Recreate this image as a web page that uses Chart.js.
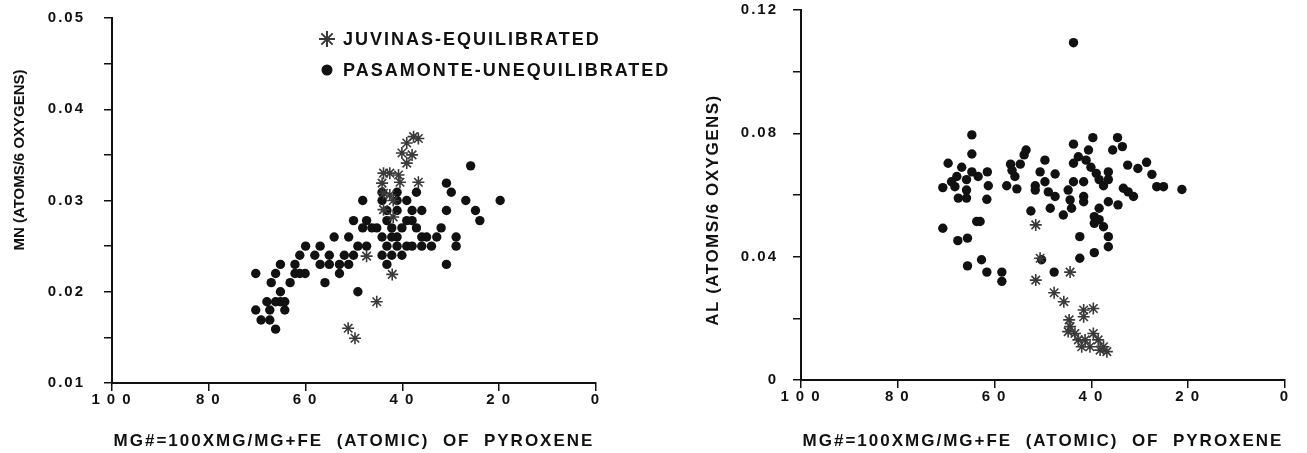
<!DOCTYPE html>
<html>
<head>
<meta charset="utf-8">
<script src="https://cdn.jsdelivr.net/npm/chart.js@4/dist/chart.umd.min.js"></script>
<style>
  body { margin: 0; background: #fff; }
  canvas { position: absolute; top: 0; }
</style>
</head>
<body>
<canvas id="mnGraph" width="700" height="453" style="left:0"></canvas>
<canvas id="alGraph" width="607" height="453" style="left:700px"></canvas>
<script>
// MN plot (left)
var juvMnX = [37.7, 36.7, 39.1, 40.1, 38.0, 39.1, 43.9, 42.6, 40.8, 44.2, 36.7, 43.9, 42.6, 43.9, 41.9, 47.4, 42.1, 45.3, 51.2, 49.8, 40.5, 41.9];
var juvMnY = [0.037, 0.0368, 0.0363, 0.0352, 0.035, 0.0341, 0.033, 0.033, 0.0328, 0.0319, 0.032, 0.0308, 0.0306, 0.029, 0.0282, 0.0239, 0.0219, 0.0189, 0.016, 0.0149, 0.032, 0.030];
var pasMnX = [70.3, 70.3, 69.2, 68.0, 67.4, 67.4, 66.2, 67.1, 66.2, 65.2, 65.2, 65.2, 64.3, 64.3, 66.2, 63.2, 62.2, 62.2, 61.2, 61.2,
              60.1, 60.0, 58.1, 57.0, 57.0, 56.0, 55.1, 55.1, 54.1, 53.0, 53.0, 52.0, 51.1, 51.1, 50.1, 50.1, 49.2, 49.2, 48.2, 48.2,
              47.4, 47.4, 46.3, 45.3, 44.2, 44.2, 43.2, 43.2, 42.2, 42.2, 42.2, 41.1, 40.1, 40.1, 39.1, 38.0, 37.1, 37.1, 36.0, 36.0,
              36.0, 35.0, 34.0, 32.9, 32.0, 30.9, 30.9, 30.9, 29.9, 28.9, 28.9, 26.9, 25.9, 24.9, 24.0, 19.8, 44.2, 44.2, 43.2, 41.1,
              41.1, 39.1, 38.0, 39.1, 38.0, 43.2, 41.1, 41.1];
var pasMnY = [0.022, 0.018, 0.0169, 0.0189, 0.018, 0.0169, 0.0159, 0.021, 0.022, 0.023, 0.020, 0.0189, 0.0189, 0.018, 0.0189, 0.021, 0.022, 0.023, 0.022, 0.024,
              0.022, 0.025, 0.024, 0.025, 0.023, 0.021, 0.024, 0.023, 0.026, 0.023, 0.022, 0.024, 0.023, 0.026, 0.0278, 0.024, 0.020, 0.025, 0.030, 0.027,
              0.0278, 0.025, 0.027, 0.027, 0.024, 0.026, 0.023, 0.025, 0.024, 0.026, 0.027, 0.025, 0.024, 0.027, 0.025, 0.025, 0.027, 0.0309, 0.026, 0.025,
              0.0289, 0.026, 0.025, 0.026, 0.027, 0.0319, 0.0289, 0.023, 0.0309, 0.026, 0.025, 0.030, 0.0338, 0.0289, 0.0278, 0.030, 0.0309, 0.030, 0.0289, 0.0309,
              0.030, 0.030, 0.0289, 0.0278, 0.0278, 0.0278, 0.0289, 0.026];

// AL plot (right)
var juvAlX = [51.5, 50.6, 51.5, 44.4, 47.7, 45.7, 44.6, 41.6, 39.6, 44.4, 43.4, 44.8, 41.6, 42.7, 41.3, 39.6, 38.6, 37.5, 36.8, 40.3, 42.0, 38.2];
var juvAlY = [0.0503, 0.0395, 0.0324, 0.035, 0.0283, 0.0254, 0.0195, 0.0227, 0.0232, 0.0173, 0.0151, 0.0157, 0.0205, 0.013, 0.013, 0.0151, 0.013, 0.0108, 0.0092, 0.0108, 0.0108, 0.0097];
var pasAlX = [43.7, 64.7, 64.7, 69.6, 70.7, 68.9, 67.8, 66.8, 68.2, 67.5, 65.8, 65.8, 64.7, 65.8, 63.4, 61.5, 61.3, 61.6, 63.0, 63.7,
              70.7, 67.6, 65.6, 65.6, 62.7, 61.6, 58.5, 58.5, 56.7, 57.5, 55.8, 55.4, 56.4, 54.7, 53.9, 53.5, 52.5, 51.6, 51.6, 50.6,
              49.6, 49.6, 48.9, 47.5, 47.5, 48.5, 47.7, 50.3, 45.8, 44.8, 44.4, 44.1, 43.7, 43.7, 42.7, 41.6, 41.6, 41.6, 43.7, 42.4,
              42.4, 40.6, 39.7, 41.1, 40.1, 39.0, 38.4, 37.5, 36.5, 36.5, 38.4, 39.4, 39.4, 38.4, 37.5, 36.5, 36.5, 39.4, 36.5, 34.5,
              35.6, 34.6, 33.6, 32.5, 33.4, 32.4, 31.3, 30.4, 28.6, 27.5, 26.5, 25.1, 21.3];
var pasAlY = [0.1094, 0.0795, 0.0733, 0.0703, 0.0624, 0.0643, 0.066, 0.069, 0.0627, 0.059, 0.059, 0.0616, 0.0675, 0.065, 0.066, 0.0675, 0.063, 0.0586, 0.0514, 0.0514,
              0.0492, 0.0452, 0.046, 0.037, 0.039, 0.035, 0.035, 0.032, 0.070, 0.063, 0.066, 0.062, 0.068, 0.070, 0.073, 0.0746, 0.0548, 0.063, 0.0616, 0.0675,
              0.0713, 0.0643, 0.061, 0.0668, 0.0595, 0.0557, 0.035, 0.039, 0.0535, 0.0616, 0.0584, 0.0557, 0.0765, 0.0703, 0.0724, 0.0643, 0.0595, 0.0578, 0.0643, 0.0465,
              0.0395, 0.0746, 0.0786, 0.0713, 0.069, 0.067, 0.065, 0.063, 0.0675, 0.065, 0.0557, 0.053, 0.0508, 0.052, 0.0497, 0.0465, 0.0432, 0.0413, 0.0578, 0.0568,
              0.0746, 0.0786, 0.0757, 0.0697, 0.0622, 0.061, 0.0595, 0.0686, 0.0706, 0.0667, 0.0627, 0.0627, 0.0618];

var xTicks = [100, 80, 60, 40, 20, 0];
var xTitle = 'MG#=100XMG/MG+FE  (ATOMIC)  OF  PYROXENE';
var legendLabels = ['JUVINAS-EQUILIBRATED', 'PASAMONTE-UNEQUILIBRATED'];

Chart.defaults.font.family = '"Liberation Sans", Arial, sans-serif';
Chart.defaults.font.weight = 'bold';
Chart.defaults.color = '#111';

function toPoints(xs, ys) {
    return xs.map(function (x, i) { return { x: x, y: ys[i] }; });
}

// letter spacing like the old typewriter-ish plot labels
var spacing = {
    id: 'spacing',
    beforeLayout: function (chart) { chart.ctx.letterSpacing = '2px'; },
    beforeDraw: function (chart) { chart.ctx.letterSpacing = '2px'; }
};

// vertical y title, placed by hand like the original
var yTitle = {
    id: 'yTitle',
    afterDraw: function (chart, args, opts) {
        var ctx = chart.ctx;
        ctx.save();
        ctx.letterSpacing = opts.spacing;
        ctx.font = 'bold ' + opts.size + 'px "Liberation Sans", Arial, sans-serif';
        ctx.fillStyle = '#111';
        ctx.translate(opts.x, opts.y);
        ctx.rotate(-Math.PI / 2);
        ctx.textAlign = 'center';
        ctx.textBaseline = 'middle';
        ctx.fillText(opts.text, 0, 0);
        ctx.restore();
    }
};

var inLegend = {
    id: 'inLegend',
    afterDraw: function (chart, args, opts) {
        if (!opts.show) return;
        var ctx = chart.ctx;
        ctx.save();
        ctx.letterSpacing = '2px';
        ctx.font = 'bold 18px "Liberation Sans", Arial, sans-serif';
        ctx.textBaseline = 'middle';
        chart.data.datasets.forEach(function (ds, i) {
            var y = 39 + i * 31;
            ctx.strokeStyle = ds.borderColor;
            ctx.fillStyle = ds.backgroundColor;
            ctx.lineWidth = 2;
            Chart.helpers.drawPoint(ctx, { pointStyle: ds.pointStyle, radius: i === 0 ? 8 : 4.5, rotation: 0, borderWidth: 2 }, 327, y);
            ctx.fillStyle = '#111';
            ctx.fillText(ds.label, 343, y + 1);
        });
        ctx.restore();
    }
};

function makeChart(id, juv, pas, yCfg, box) {
    var ctx = document.getElementById(id).getContext('2d');
    return new Chart(ctx, {
        type: 'scatter',
        data: {
            datasets: [{
                label: legendLabels[0],
                data: juv,
                pointStyle: 'star',
                radius: 6,
                borderWidth: 1.6,
                borderColor: '#3a3a3a',
                backgroundColor: '#3a3a3a'
            }, {
                label: legendLabels[1],
                data: pas,
                pointStyle: 'circle',
                radius: 4.7,
                borderWidth: 0,
                borderColor: '#111',
                backgroundColor: '#111'
            }]
        },
        plugins: [spacing, yTitle, inLegend],
        options: {
            responsive: false,
            animation: false,
            layout: { padding: box.padding },
            plugins: {
                legend: { display: false },
                tooltip: { enabled: false },
                yTitle: box.yTitle,
                inLegend: { show: box.legend }
            },
            scales: {
                x: {
                    type: 'linear',
                    min: 0,
                    max: 100,
                    reverse: true,
                    afterBuildTicks: function (scale) { scale.ticks = xTicks.map(function (v) { return { value: v }; }); },
                    afterFit: function (scale) { scale.height = box.xHeight; },
                    grid: { drawOnChartArea: false, tickLength: 8, color: '#111', lineWidth: 1.5 },
                    border: { color: '#111', width: 2 },
                    ticks: {
                        padding: 0,
                        font: { size: 15 },
                        callback: function (v) { return String(v).split('').join('\u2009'); }
                    },
                    title: { display: true, text: xTitle, font: { size: 17 }, padding: { top: 6, bottom: 1 } }
                },
                y: {
                    min: yCfg.min,
                    max: yCfg.max,
                    afterFit: function (scale) {
                        scale.width = box.yWidth;
                        scale.paddingTop = 0;
                        scale.paddingBottom = 0;
                    },
                    grid: { drawOnChartArea: false, tickLength: 8, color: '#111', lineWidth: 1.5 },
                    border: { color: '#111', width: 2 },
                    ticks: {
                        stepSize: yCfg.step,
                        autoSkip: false,
                        padding: box.yPad,
                        font: { size: 15 },
                        callback: yCfg.label
                    }
                }
            }
        }
    });
}

makeChart('mnGraph', toPoints(juvMnX, juvMnY), toPoints(pasMnX, pasMnY), {
    min: 0.01, max: 0.05, step: 0.005,
    label: function (v) { var r = Math.round(v * 1000); return r % 10 === 0 ? (r / 1000).toFixed(2) : ''; }
}, {
    padding: { left: 0, right: 104, top: 18, bottom: 0 },
    xHeight: 70, yWidth: 112, yPad: 19, legend: true,
    yTitle: { text: 'MN (ATOMS/6 OXYGENS)', x: 20, y: 160, size: 15, spacing: '0px' }
});

makeChart('alGraph', toPoints(juvAlX, juvAlY), toPoints(pasAlX, pasAlY), {
    min: 0, max: 0.12, step: 0.02,
    label: function (v) { var r = Math.round(v * 100); return r % 4 === 0 ? (r === 0 ? '0' : (r / 100).toFixed(2)) : ''; }
}, {
    padding: { left: 0, right: 22, top: 10, bottom: 0 },
    xHeight: 73, yWidth: 101, yPad: 15, legend: false,
    yTitle: { text: 'AL (ATOMS/6 OXYGENS)', x: 13, y: 210, size: 17, spacing: '1.5px' }
});
</script>
</body>
</html>
